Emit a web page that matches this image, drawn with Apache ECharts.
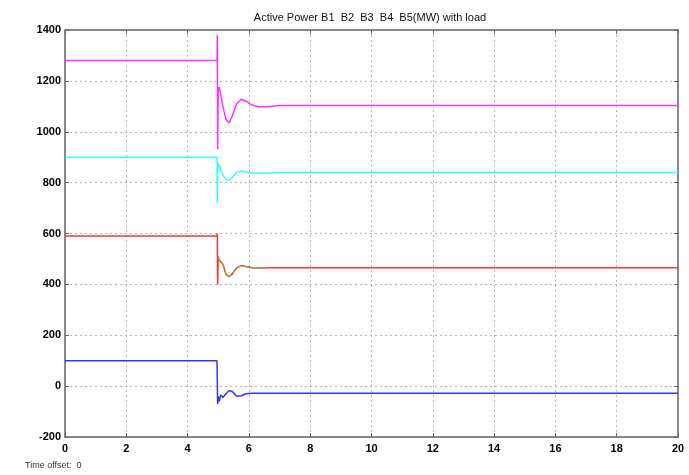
<!DOCTYPE html>
<html>
<head>
<meta charset="utf-8">
<script src="https://cdn.jsdelivr.net/npm/echarts@6/dist/echarts.min.js"></script>
<style>
html,body{margin:0;padding:0;background:#fff;}
#c{width:689px;height:475px;}
</style>
</head>
<body>
<div id="c"></div>
<script>
var titleText = 'Active Power B1  B2  B3  B4  B5(MW) with load';
var xTicks = [0, 2, 4, 6, 8, 10, 12, 14, 16, 18, 20];
var yTicks = [-200, 0, 200, 400, 600, 800, 1000, 1200, 1400];
var time = [0, 4.96, 4.97, 4.98, 5.0, 5.03, 5.08, 5.15, 5.25, 5.35, 5.45, 5.6, 5.75, 5.9, 6.1, 6.3, 6.6, 7.0, 20];
var b1 = [1280, 1280, 1380, 930, 1160, 1175, 1150, 1100, 1050, 1035, 1060, 1110, 1128, 1120, 1105, 1098, 1098, 1103, 1103];
var b2 = [900, 900, 720, 880, 860, 870, 850, 830, 812, 808, 820, 840, 846, 842, 838, 838, 838, 840, 840];
var b3 = [590, 590, 600, 400, 510, 495, 500, 480, 440, 430, 440, 465, 474, 470, 465, 464, 465, 465, 465];
var b4 = [null, null, null, null, 505, 497, 500, 480, 440, 430, 440, 465, 474, 470, 465, 464, 465, null, null];
var b5 = [100, 100, 95, -70, -40, -60, -35, -45, -30, -18, -20, -40, -38, -30, -28, -28, -28, -28, -28];

function pairs(vals) {
  return time.map(function (t, i) { return [t, vals[i]]; });
}

var chart = echarts.init(document.getElementById('c'));
var font = 'Liberation Sans, Arial, sans-serif';
var frame = { show: true, onZero: false, lineStyle: { color: '#888', width: 2 } };
var ticks = { show: true, inside: true, length: 4, lineStyle: { color: '#666' } };
var grid = { show: true, lineStyle: { color: '#b5b5b5', type: [2, 3], width: 1 } };
function line(name, vals, color, dashed, w) {
  return {
    name: name, type: 'line', data: pairs(vals), showSymbol: false, symbol: 'none',
    connectNulls: false, animation: false,
    lineStyle: { color: color, width: w || 1.5, type: dashed ? [4, 3] : 'solid' },
    itemStyle: { color: color }
  };
}
chart.setOption({
  animation: false,
  backgroundColor: '#fff',
  title: {
    text: titleText, left: 365, top: 7, textAlign: 'center',
    textStyle: { fontFamily: font, fontSize: 11, fontWeight: 'normal', color: '#111' }
  },
  graphic: [{
    type: 'text', left: 25, top: 461,
    style: { text: 'Time offset:  0', fontFamily: font, fontSize: 9, fill: '#333' }
  }],
  grid: { left: 65, right: 11, top: 30, bottom: 38 },
  xAxis: [
    {
      type: 'value', min: xTicks[0], max: xTicks[xTicks.length - 1], interval: 2,
      axisLine: frame, axisTick: ticks, splitLine: grid,
      axisLabel: { color: '#000', fontFamily: font, fontSize: 11, fontWeight: 'bold', margin: 6,
        formatter: function (v) { return String(v); } }
    },
    {
      type: 'value', position: 'top', min: 0, max: 20, interval: 2,
      axisLine: frame, axisTick: ticks, axisLabel: { show: false }, splitLine: { show: false }
    }
  ],
  yAxis: [
    {
      type: 'value', min: yTicks[0], max: yTicks[yTicks.length - 1], interval: 200,
      axisLine: frame, axisTick: ticks, splitLine: grid,
      axisLabel: { color: '#000', fontFamily: font, fontSize: 11, fontWeight: 'bold', margin: 4,
        formatter: function (v) { return String(v); } }
    },
    {
      type: 'value', position: 'right', min: -200, max: 1400, interval: 200,
      axisLine: frame, axisTick: ticks, axisLabel: { show: false }, splitLine: { show: false }
    }
  ],
  series: [
    line('B1', b1, '#ff33ff'),
    line('B2', b2, '#33ffff'),
    line('B3', b3, '#ff3333'),
    line('B4', b4, '#66c444', true, 1.2),
    line('B5', b5, '#3333ff')
  ]
});
</script>
</body>
</html>
